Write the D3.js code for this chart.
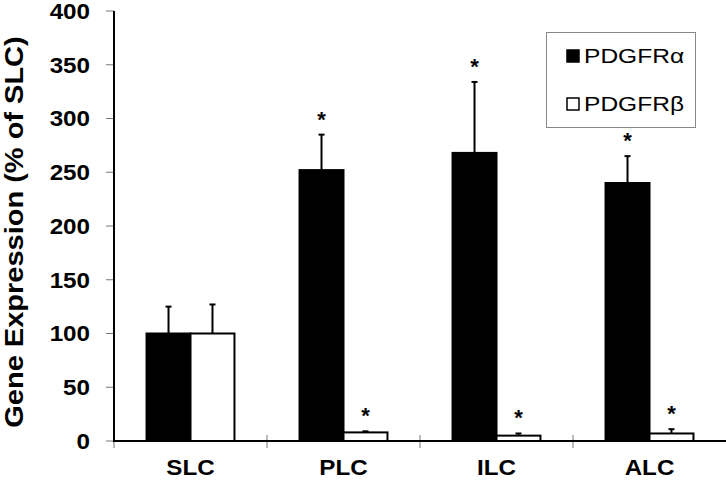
<!DOCTYPE html>
<html>
<head>
<meta charset="utf-8">
<script src="https://cdn.jsdelivr.net/npm/d3@7/dist/d3.min.js"></script>
<style>
html,body{margin:0;padding:0;background:#fff;}
svg{display:block;font-family:"Liberation Sans",Arial,sans-serif;}
</style>
</head>
<body>
<svg id="chart" width="726" height="480"></svg>
<script>
const categories = ["SLC", "PLC", "ILC", "ALC"];
const seriesNames = ["PDGFRα", "PDGFRβ"];
const alphaValues = [100, 252, 268, 240];
const alphaErrors = [25, 33, 66, 25];
const betaValues = [100, 8, 5, 7];
const betaErrors = [27, 1, 2, 4];
const alphaStars = [false, true, true, true];
const betaStars = [false, true, true, true];
const yTicks = [0, 50, 100, 150, 200, 250, 300, 350, 400];

(function () {
const svg = d3.select("#chart");
const mLeft = 114, mRight = 726, mTop = 11, mBottom = 441;

const x = d3.scaleBand().domain(categories).range([mLeft, mRight]).paddingInner(0).paddingOuter(0);
const xs = d3.scaleBand().domain(seriesNames).range([0, x.bandwidth()]).paddingInner(0).paddingOuter(0.74);
const y = d3.scaleLinear().domain([0, 400]).range([mBottom, mTop]);

const series = [
  {name: seriesNames[0], values: alphaValues, errors: alphaErrors, stars: alphaStars, fill: "#000"},
  {name: seriesNames[1], values: betaValues, errors: betaErrors, stars: betaStars, fill: "#fff"}
];

const yAxis = svg.append("g");
yTicks.forEach(t => {
  yAxis.append("line").attr("x1", mLeft - 8).attr("x2", mLeft).attr("y1", y(t)).attr("y2", y(t))
    .attr("stroke", "#777").attr("stroke-width", 1);
  yAxis.append("text").attr("transform", `translate(90,${y(t) + 7.8}) scale(1.1,1)`)
    .attr("text-anchor", "end").attr("font-weight", "bold").attr("font-size", 22).text(t);
});

categories.forEach((c, i) => {
  const b = x(c);
  svg.append("line").attr("x1", b).attr("x2", b).attr("y1", i === 0 ? mBottom : mBottom - 6).attr("y2", mBottom + 7)
    .attr("stroke", "#777").attr("stroke-width", 1);
});

series.forEach(s => {
  const g = svg.append("g");
  categories.forEach((c, i) => {
    const bx = x(c) + xs(s.name);
    const bw = xs.bandwidth();
    const cx = bx + bw / 2;
    const yTop = y(s.values[i] + s.errors[i]);
    g.append("line").attr("x1", cx).attr("x2", cx).attr("y1", y(s.values[i])).attr("y2", yTop)
      .attr("stroke", "#000").attr("stroke-width", 2);
    g.append("line").attr("x1", cx - 3).attr("x2", cx + 3).attr("y1", yTop).attr("y2", yTop)
      .attr("stroke", "#000").attr("stroke-width", 2);
    g.append("rect").attr("x", bx).attr("y", y(s.values[i])).attr("width", bw).attr("height", y(0) - y(s.values[i]))
      .attr("fill", s.fill).attr("stroke", "#000").attr("stroke-width", 2);
    if (s.stars[i]) {
      g.append("text").attr("x", cx).attr("y", yTop - 8)
        .attr("text-anchor", "middle").attr("font-size", 22).attr("font-weight", "bold").text("*");
    }
  });
});

svg.append("line").attr("x1", mLeft).attr("x2", mLeft).attr("y1", mTop).attr("y2", mBottom + 1)
  .attr("stroke", "#000").attr("stroke-width", 2);
svg.append("line").attr("x1", mLeft - 1).attr("x2", mRight).attr("y1", mBottom).attr("y2", mBottom)
  .attr("stroke", "#000").attr("stroke-width", 2);

categories.forEach(c => {
  svg.append("text").attr("transform", `translate(${x(c) + x.bandwidth() / 2},475) scale(1.1,1)`)
    .attr("text-anchor", "middle").attr("font-weight", "bold").attr("font-size", 22).text(c);
});

svg.append("text").attr("transform", `translate(23,232) rotate(-90) scale(1.16,1)`)
  .attr("text-anchor", "middle").attr("font-weight", "bold").attr("font-size", 25).text("Gene Expression (% of SLC)");

const lg = svg.append("g");
lg.append("rect").attr("x", 546.5).attr("y", 32.5).attr("width", 149).attr("height", 95)
  .attr("fill", "#fff").attr("stroke", "#888").attr("stroke-width", 1);
series.forEach((s, i) => {
  const ly = 50 + i * 48;
  lg.append("rect").attr("x", 567).attr("y", ly).attr("width", 12).attr("height", 12)
    .attr("fill", s.fill).attr("stroke", "#000").attr("stroke-width", 1.5);
  lg.append("text").attr("transform", `translate(584,${ly + 13}) scale(1.17,1)`)
    .attr("font-size", 21).text(s.name);
});
})();
</script>
</body>
</html>
